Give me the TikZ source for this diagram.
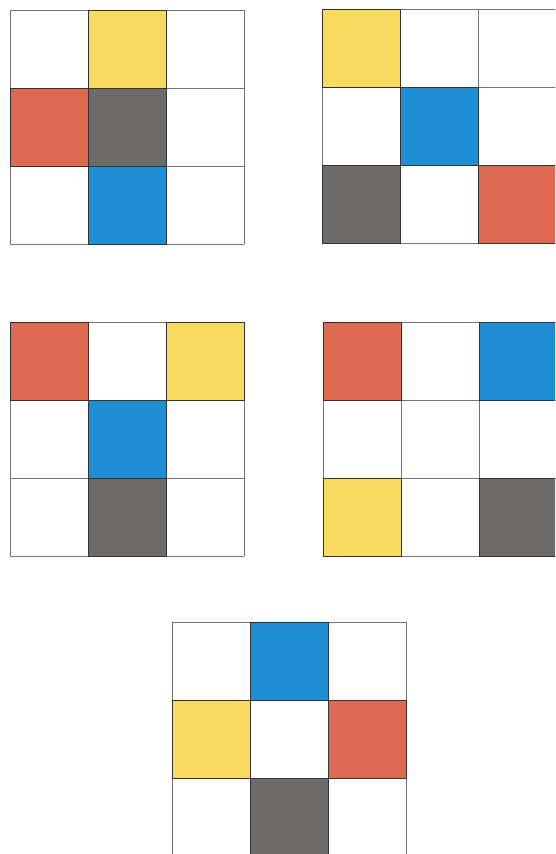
\documentclass[tikz,border=0pt]{standalone}
\definecolor{cW}{HTML}{FFFFFF}
\definecolor{cY}{HTML}{F8DB5E}
\definecolor{cR}{HTML}{DE6B51}
\definecolor{cG}{HTML}{6C6B69}
\definecolor{cB}{HTML}{1F8FD5}
\tikzset{gridline/.style={draw=black!55,line width=0.7pt},
         cellbox/.style={line width=0.9pt}}
\newcommand\mygrid[3]{%
  \foreach \c [count=\i from 0] in {#3} {
    \pgfmathtruncatemacro\gcol{mod(\i,3)}
    \pgfmathtruncatemacro\grow{div(\i,3)}
    \fill[\c] ({#1+\gcol*78},{#2+\grow*78}) rectangle ++(78,78);
  }
  \foreach \k in {0,1,2,3} {
    \draw[gridline] ({#1+\k*78},#2) -- ++(0,234);
    \draw[gridline] (#1,{#2+\k*78}) -- ++(234,0);
  }
  \foreach \c [count=\i from 0] in {#3} {
    \pgfmathtruncatemacro\gcol{mod(\i,3)}
    \pgfmathtruncatemacro\grow{div(\i,3)}
    \ifx\c\gw\else
      \draw[cellbox,draw=black!80] ({#1+\gcol*78},{#2+\grow*78}) rectangle ++(78,78);
    \fi
  }
}
\def\gw{cW}
\begin{document}
\begin{tikzpicture}[x=1pt,y=-1pt]
\useasboundingbox (0,0) rectangle (555,854);
\fill[white] (0,0) rectangle (555,854);
\clip (0,0) rectangle (555,854);
\mygrid{10}{10}{cW,cY,cW,cR,cG,cW,cW,cB,cW}
\mygrid{322}{9}{cY,cW,cW,cW,cB,cW,cG,cW,cR}
\mygrid{10}{322}{cR,cW,cY,cW,cB,cW,cW,cG,cW}
\mygrid{323}{322}{cR,cW,cB,cW,cW,cW,cY,cW,cG}
\mygrid{172}{622}{cW,cB,cW,cY,cW,cR,cW,cG,cW}
\end{tikzpicture}
\end{document}
